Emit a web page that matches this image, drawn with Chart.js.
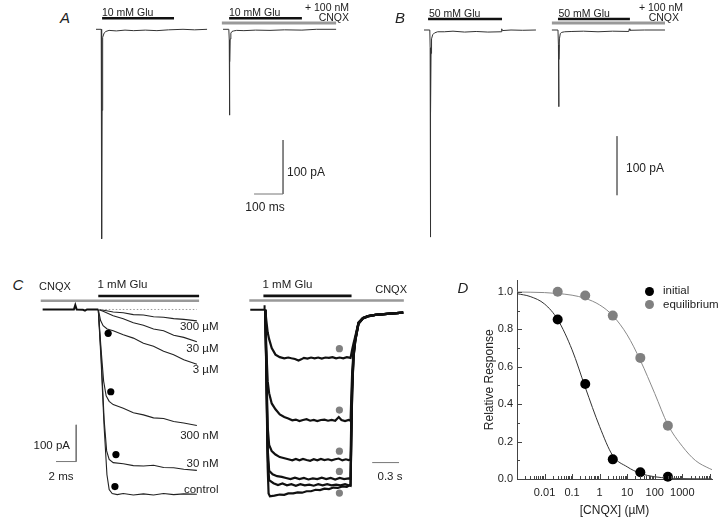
<!DOCTYPE html>
<html>
<head>
<meta charset="utf-8">
<script src="https://cdn.jsdelivr.net/npm/chart.js@4.4.1/dist/chart.umd.min.js"></script>
<style>
  body { margin: 0; background: #fff; }
  #fig { position: relative; width: 720px; height: 520px; overflow: hidden; background: #fff; }
  #fig canvas { position: absolute; }
  .t { position: absolute; white-space: nowrap; font-family: Arial, "Liberation Sans", sans-serif; color: #222; line-height: 1.2; }
  .dot { position: absolute; border-radius: 50%; }
</style>
</head>
<body>
<div id="fig">
  <canvas id="panelA" width="270" height="250" style="left:90px;top:0px"></canvas>
  <canvas id="panelB" width="300" height="250" style="left:400px;top:0px"></canvas>
  <canvas id="panelC1" width="200" height="240" style="left:30px;top:270px"></canvas>
  <canvas id="panelC2" width="190" height="240" style="left:230px;top:270px"></canvas>
  <canvas id="panelD" width="300" height="250" style="left:440px;top:270px"></canvas>
</div>
<script>
// ---- A: 10 mM Glu, ms / pA ----
var aGlu = [[21, 269], [459, 710]];
var aCnqx = [434, 828];
var aControl = [[0,0],[18,0],[19,-30],[19.8,-388],[20.8,-150],[22,-40],[24,-15],[28,-7],[34,-4],[45,-2],[70,-3],[100,-1.5],[130,-2.5],[170,-1.5],[210,-2.5],[250,-1],[300,0],[340,-1],[383,0]];
var aWithCnqx = [[438,0],[458,0],[459.5,-20],[460.3,-159],[461.3,-60],[462.5,-18],[465,-7],[469,-4],[475,-3],[485,-2],[510,-2.5],[550,-1.5],[600,-2],[650,-1],[710,-1.5],[760,0],[828,0]];

// ---- B: 50 mM Glu ----
var bGlu = [[14, 269], [462, 710]];
var bCnqx = [441, 831];
var bControl = [[0,0],[20,0],[21.2,-30],[22,-351],[23,-140],[24.2,-40],[26,-15],[30,-8],[36,-5],[47,-3],[70,-3],[100,-2],[140,-3.5],[180,-2.5],[220,-3.5],[266,-3],[268,2],[270,-1],[300,0],[340,-0.5],[386,0]];
var bWithCnqx = [[441,0],[462,0],[463.5,-25],[464.5,-130],[465.5,-50],[467,-15],[470,-6],[475,-4],[485,-3],[510,-2.5],[550,-2],[600,-3],[650,-2],[706,-2.5],[708,2],[710,-0.5],[760,0],[831,0]];

// ---- C left: fast application, ms / pA ----
var cGlu = [5.52, 15.52];
var cCnqx = [-0.19, 15.52];
var cBase = [[0,0],[3.1,0],[3.24,12],[3.38,0],[4.0,-1],[4.2,-3],[4.4,0],[5.52,0]];
var c300uM = [[5.52,0],[6.2,-3],[7,-7],[8,-9],[9,-14],[10,-15],[11,-20],[12,-21],[13,-25],[14,-27],[15.3,-31]];
var c30uM = [[5.52,0],[6,-5],[7,-17],[8,-25],[9,-36],[10,-43],[11,-53],[12,-58],[13,-70],[14,-76],[15.3,-88]];
var c3uM = [[5.52,0],[5.75,-30],[6.0,-44],[6.4,-53],[7,-58],[8,-69],[9,-78],[10,-92],[11,-100],[12,-114],[13,-123],[14,-137],[15.3,-149]];
var c300nM = [[5.52,0],[5.8,-110],[6.05,-195],[6.3,-235],[6.6,-250],[7,-259],[8,-269],[9,-281],[10,-287],[11,-295],[12,-297],[13,-305],[14,-309],[15.3,-316]];
var c30nM = [[5.52,0],[5.8,-125],[6.1,-300],[6.35,-385],[6.6,-408],[7,-417],[8,-420],[9,-425],[10,-426],[11,-424],[12,-430],[13,-431],[14,-435],[15.3,-438]];
var cControl = [[5.52,0],[5.8,-140],[6.1,-320],[6.38,-450],[6.6,-490],[6.9,-501],[7.4,-504],[8,-501],[9,-505],[10,-502],[11,-505],[12,-501],[13,-504],[14,-502],[15.3,-503]];
var cPeaks = [[6.5,-65],[6.76,-224],[7.27,-395],[7.17,-482]];

// ---- C right: long application, s / pA ----
var rGlu = [0.147, 1.133];
var rCnqx = [-0.011, 1.718];
var rBase = [[0,0],[0.155,0],[0.158,12],[0.162,0],[0.168,0]];
var r300uM = [[0.168,0],[0.18,-30],[0.195,-62],[0.211,-80],[0.24,-104],[0.282,-122],[0.33,-129],[0.38,-132],[0.425,-130],[0.46,-132],[0.5,-134],[0.54,-138],[0.57,-135],[0.6,-131],[0.64,-133],[0.68,-130],[0.72,-132],[0.76,-130],[0.8,-133],[0.84,-130],[0.88,-131],[0.92,-129],[0.96,-132],[1.0,-130],[1.04,-132],[1.08,-129],[1.122,-131],[1.14,-108],[1.155,-92],[1.175,-72],[1.211,-35],[1.26,-22],[1.318,-17],[1.4,-14],[1.497,-12],[1.6,-10],[1.711,-8]];
var r30uM = [[0.168,0],[0.18,-110],[0.195,-195],[0.211,-227],[0.24,-255],[0.282,-271],[0.33,-285],[0.38,-292],[0.425,-296],[0.47,-301],[0.51,-299],[0.55,-303],[0.59,-300],[0.63,-298],[0.67,-302],[0.71,-300],[0.75,-303],[0.79,-300],[0.83,-299],[0.87,-302],[0.91,-300],[0.95,-302],[0.99,-292],[1.02,-300],[1.06,-303],[1.1,-300],[1.122,-302],[1.13,-240],[1.14,-170],[1.155,-115],[1.175,-78],[1.211,-35],[1.26,-22],[1.318,-17],[1.4,-14],[1.497,-12],[1.6,-10],[1.711,-8]];
var r3uM = [[0.168,0],[0.18,-150],[0.195,-320],[0.211,-368],[0.24,-385],[0.282,-394],[0.33,-401],[0.425,-407],[0.47,-410],[0.51,-406],[0.55,-410],[0.59,-406],[0.63,-409],[0.67,-411],[0.71,-407],[0.75,-410],[0.79,-406],[0.83,-409],[0.87,-407],[0.91,-410],[0.95,-407],[0.99,-405],[1.03,-410],[1.07,-407],[1.1,-409],[1.122,-408],[1.13,-300],[1.14,-200],[1.155,-120],[1.175,-80],[1.211,-36],[1.26,-23],[1.318,-17],[1.4,-14],[1.497,-12],[1.6,-10],[1.711,-8]];
var r300nM = [[0.168,0],[0.18,-160],[0.195,-380],[0.211,-438],[0.25,-448],[0.3,-453],[0.353,-455],[0.4,-458],[0.45,-461],[0.5,-457],[0.55,-461],[0.6,-458],[0.65,-462],[0.7,-459],[0.75,-461],[0.8,-457],[0.85,-461],[0.9,-458],[0.95,-462],[1.0,-458],[1.05,-461],[1.1,-459],[1.122,-460],[1.13,-340],[1.14,-215],[1.155,-125],[1.175,-82],[1.211,-37],[1.26,-23],[1.318,-17],[1.4,-14],[1.497,-12],[1.6,-10],[1.711,-8]];
var r30nM = [[0.168,0],[0.18,-170],[0.195,-400],[0.211,-464],[0.26,-472],[0.31,-477],[0.36,-473],[0.41,-478],[0.46,-475],[0.51,-479],[0.56,-475],[0.61,-478],[0.66,-476],[0.71,-479],[0.76,-475],[0.81,-478],[0.86,-475],[0.91,-478],[0.96,-476],[1.01,-478],[1.06,-475],[1.1,-478],[1.122,-477],[1.13,-350],[1.14,-220],[1.155,-128],[1.175,-84],[1.211,-38],[1.26,-24],[1.318,-18],[1.4,-14],[1.497,-12],[1.6,-10],[1.711,-8]];
var rControl = [[0.168,0],[0.18,-180],[0.195,-430],[0.205,-500],[0.22,-508],[0.27,-506],[0.33,-503],[0.38,-504],[0.425,-500],[0.48,-500],[0.53,-497],[0.58,-498],[0.63,-494],[0.68,-494],[0.73,-490],[0.78,-491],[0.83,-487],[0.88,-488],[0.93,-484],[0.98,-485],[1.03,-481],[1.08,-482],[1.11,-478],[1.122,-479],[1.13,-355],[1.14,-225],[1.155,-130],[1.175,-85],[1.211,-38],[1.26,-24],[1.318,-18],[1.4,-14],[1.497,-12],[1.6,-10],[1.711,-8]];
var rEquil = [[0.997,-106],[0.997,-273],[0.997,-385],[0.997,-440],[0.997,-499]];

// ---- D: concentration-response ----
var dConc = [0.03, 0.3, 3, 30, 300];
var dInitial = [0.852, 0.508, 0.105, 0.036, 0.012];
var dEquilibrium = [1.0, 0.98, 0.873, 0.647, 0.285];
var dFitConc = [0.001, 0.003, 0.01, 0.03, 0.1, 0.3, 1, 3, 10, 30, 100, 300, 1000, 3000, 10000, 12000];
var dFitInitial = [0.99, 0.975, 0.935, 0.852, 0.69, 0.49, 0.28, 0.125, 0.065, 0.03, 0.012, 0.005, 0.002, 0.001, 0.0005, 0.0004];
var dFitEquilibrium = [0.999, 0.998, 0.996, 0.991, 0.982, 0.965, 0.93, 0.873, 0.77, 0.634, 0.457, 0.29, 0.175, 0.099, 0.055, 0.05];
var dTickLabels = ['0.01', '0.1', '1', '10', '100', '1000'];

var FONT = 'Arial, "Liberation Sans", sans-serif';

function pts(list) {
    return list.map(function (p) { return {x: p[0], y: p[1]}; });
}

function seg(x0, x1, y0, y1) {
    return [{x: x0, y: y0}, {x: x1, y: y1}];
}

function ln(data, color, width, extra) {
    var ds = {data: data, borderColor: color, borderWidth: width, pointRadius: 0, fill: false, tension: 0};
    for (var k in extra) ds[k] = extra[k];
    return ds;
}

function tracePanel(id, xr, yr, datasets) {
    var ctx = document.getElementById(id).getContext('2d');
    new Chart(ctx, {
        type: 'line',
        data: {datasets: datasets},
        options: {
            responsive: false,
            animation: false,
            events: [],
            layout: {padding: 0},
            plugins: {legend: {display: false}, tooltip: {enabled: false}},
            scales: {
                x: {type: 'linear', display: false, min: xr[0], max: xr[1]},
                y: {type: 'linear', display: false, min: yr[0], max: yr[1]}
            }
        }
    });
}

// A
tracePanel('panelA', [-20.69, 910.34], [-408.7, 54.26], [
    ln(pts(aControl), '#333', 1),
    ln(pts(aWithCnqx), '#333', 1),
    ln(seg(aGlu[0][0], aGlu[0][1], 20.4, 20.4), '#111', 2.6),
    ln(seg(aGlu[1][0], aGlu[1][1], 20.4, 20.4), '#111', 2.6),
    ln(seg(aCnqx[0], aCnqx[1], 11.7, 11.7), '#999', 2.8),
    ln(seg(645, 645, -205, -305), '#777', 1),
    ln(seg(545, 645, -305, -305), '#777', 1)
]);

// B
tracePanel('panelB', [-82.76, 951.7], [-372.9, 50.85], [
    ln(pts(bControl), '#333', 1),
    ln(pts(bWithCnqx), '#333', 1),
    ln(seg(bGlu[0][0], bGlu[0][1], 18.6, 18.6), '#111', 2.6),
    ln(seg(bGlu[1][0], bGlu[1][1], 18.6, 18.6), '#111', 2.6),
    ln(seg(bCnqx[0], bCnqx[1], 11.9, 11.9), '#999', 2.8),
    ln(seg(665.5, 665.5, -180, -280), '#777', 1)
]);

// C left
var cSets = [
    ln(pts(cBase), '#111', 2),
    ln(seg(cGlu[0], 15.3, 0, 0), '#999', 1, {borderDash: [1.5, 2]}),
    ln(seg(cGlu[0], cGlu[1], 36.8, 36.8), '#111', 2.6),
    ln(seg(cCnqx[0], cCnqx[1], 23.7, 23.7), '#999', 2.6),
    ln(seg(3.33, 3.33, -314, -414), '#777', 1),
    ln(seg(1.33, 3.33, -414, -414), '#777', 1),
    {data: pts(cPeaks), showLine: false, pointRadius: 3.6, pointBorderWidth: 0, pointBackgroundColor: '#000', clip: false}
];
[c300uM, c30uM, c3uM, c300nM, c30nM, cControl].forEach(function (tr) {
    cSets.push(ln(pts(tr), '#222', 1.1));
});
tracePanel('panelC1', [-0.857, 18.19], [-535, 96.58], cSets);

// C right
var rSets = [
    ln(pts(rBase), '#111', 2),
    ln(seg(rGlu[0], rGlu[1], 37.7, 37.7), '#111', 2.6),
    ln(seg(rCnqx[0], rCnqx[1], 25.4, 25.4), '#999', 2.6),
    ln(seg(1.364, 1.664, -416, -416), '#777', 1),
    {data: pts(rEquil), showLine: false, pointRadius: 3.6, pointBorderWidth: 0, pointBackgroundColor: '#808080', clip: false}
];
[r300uM, r30uM, r3uM, r300nM, r30nM, rControl].forEach(function (tr) {
    rSets.push(ln(pts(tr), '#111', 2.2));
});
tracePanel('panelC2', [-0.182, 1.854], [-534.2, 97.37], rSets);

// D
function xy(xs, ys) {
    return xs.map(function (x, i) { return {x: x, y: ys[i]}; });
}

var tickMarks = {
    id: 'tickMarks',
    afterDraw: function (chart) {
        var ctx = chart.ctx, sx = chart.scales.x, sy = chart.scales.y;
        ctx.save();
        ctx.strokeStyle = '#444';
        ctx.lineWidth = 1;
        ctx.beginPath();
        sx.ticks.forEach(function (t) {
            var e = Math.floor(Math.log10(t.value) + 1e-9);
            var m = t.value / Math.pow(10, e);
            if (Math.abs(m - Math.round(m)) > 1e-6) return;
            var px = Math.round(sx.getPixelForValue(t.value)) + 0.5;
            var len = Math.round(m) === 1 || Math.round(m) === 10 ? 5 : 3;
            ctx.moveTo(px, sx.top);
            ctx.lineTo(px, sx.top - len);
        });
        sy.ticks.forEach(function (t) {
            var k = Math.round(t.value * 10);
            if (Math.abs(t.value * 10 - k) > 1e-6) return;
            var py = Math.round(sy.getPixelForValue(t.value)) + 0.5;
            ctx.moveTo(sy.right, py);
            ctx.lineTo(sy.right + (k % 2 === 0 ? 5 : 3), py);
        });
        ctx.stroke();
        ctx.restore();
    }
};

var ctxD = document.getElementById('panelD').getContext('2d');
new Chart(ctxD, {
    type: 'line',
    data: {
        datasets: [
            {data: xy(dConc, dInitial), showLine: false, pointRadius: 5, pointBorderWidth: 0, pointBackgroundColor: '#000', clip: false},
            {data: xy(dConc, dEquilibrium), showLine: false, pointRadius: 5, pointBorderWidth: 0, pointBackgroundColor: '#808080', clip: false},
            ln(xy(dFitConc, dFitInitial), '#333', 1, {cubicInterpolationMode: 'monotone'}),
            ln(xy(dFitConc, dFitEquilibrium), '#8a8a8a', 1, {cubicInterpolationMode: 'monotone'})
        ]
    },
    options: {
        responsive: false,
        animation: false,
        events: [],
        layout: {padding: {top: 5, right: 28, left: 0, bottom: 0}},
        plugins: {legend: {display: false}, tooltip: {enabled: false}},
        scales: {
            x: {
                type: 'logarithmic', min: 0.001, max: 12000,
                grid: {display: false, drawTicks: false},
                border: {display: true, color: '#444', width: 1},
                ticks: {
                    autoSkip: false, maxRotation: 0, padding: 7, color: '#222',
                    font: {family: FONT, size: 11},
                    callback: function (v) {
                        var l = Math.log10(v);
                        if (Math.abs(l - Math.round(l)) > 1e-6) return '';
                        var i = Math.round(l) + 2;
                        return i >= 0 && i < dTickLabels.length ? dTickLabels[i] : '';
                    }
                },
                title: {display: true, text: '[CNQX] (µM)', color: '#222', font: {family: FONT, size: 12}, padding: {top: 0, bottom: 2}},
                afterFit: function (s) { s.height = 41; }
            },
            y: {
                type: 'linear', min: 0, max: 1.06,
                grid: {display: false, drawTicks: false},
                border: {display: true, color: '#444', width: 1},
                ticks: {
                    stepSize: 0.1, includeBounds: false, autoSkip: false, padding: 4, color: '#222',
                    font: {family: FONT, size: 11},
                    callback: function (v) {
                        return Math.abs(v * 5 - Math.round(v * 5)) < 1e-6 ? v.toFixed(1) : '';
                    }
                },
                title: {display: true, text: 'Relative Response', color: '#222', font: {family: FONT, size: 12}, padding: {top: 42, bottom: 0}},
                afterFit: function (s) { s.width = 77; }
            }
        }
    },
    plugins: [tickMarks]
});

// text labels (panel letters, stimulus and scale labels)
var fig = document.getElementById('fig');
function txt(s, x, y, align, size, italic) {
    var d = document.createElement('div');
    d.className = 't';
    d.textContent = s;
    d.style.left = x + 'px';
    d.style.top = y + 'px';
    d.style.fontSize = size + 'px';
    if (italic) d.style.fontStyle = 'italic';
    var tx = align === 'c' ? '-50%' : align === 'r' ? '-100%' : '0';
    d.style.transform = 'translate(' + tx + ',-50%)';
    fig.appendChild(d);
}
function dot(x, y, r, color) {
    var d = document.createElement('div');
    d.className = 'dot';
    d.style.left = (x - r) + 'px';
    d.style.top = (y - r) + 'px';
    d.style.width = d.style.height = (2 * r) + 'px';
    d.style.background = color;
    fig.appendChild(d);
}

txt('A', 65, 18, 'c', 15, true);
txt('10 mM Glu', 102, 12, 'l', 10.5);
txt('10 mM Glu', 229, 12, 'l', 10.5);
txt('+ 100 nM', 349, 7, 'r', 10.5);
txt('CNQX', 349, 16.5, 'r', 10.5);
txt('100 pA', 287, 171.5, 'l', 12);
txt('100 ms', 265, 207, 'c', 12);

txt('B', 400, 18, 'c', 15, true);
txt('50 mM Glu', 429, 12.5, 'l', 10.5);
txt('50 mM Glu', 558.5, 12.5, 'l', 10.5);
txt('+ 100 nM', 683, 6.7, 'r', 10.5);
txt('CNQX', 679, 16.7, 'r', 10.5);
txt('100 pA', 626, 168, 'l', 12);

txt('C', 18, 285, 'c', 15, true);
txt('CNQX', 39, 287, 'l', 11);
txt('1 mM Glu', 97.5, 285, 'l', 11.5);
txt('1 mM Glu', 262.5, 285, 'l', 11.5);
txt('CNQX', 407, 289.5, 'r', 11);
txt('300 µM', 218.5, 327, 'r', 11.5);
txt('30 µM', 218.5, 349, 'r', 11.5);
txt('3 µM', 218.5, 369.5, 'r', 11.5);
txt('300 nM', 218.5, 435.5, 'r', 11.5);
txt('30 nM', 218.5, 464, 'r', 11.5);
txt('control', 218.5, 490, 'r', 11.5);
txt('100 pA', 33.5, 446, 'l', 11.5);
txt('2 ms', 61, 477, 'c', 11.5);
txt('0.3 s', 390, 477, 'c', 11.5);

txt('D', 463, 288, 'c', 15, true);
dot(649, 291, 4.5, '#000');
dot(649, 304.5, 4.5, '#808080');
txt('initial', 663, 291, 'l', 11.5);
txt('equilibrium', 663, 304.5, 'l', 11.5);
</script>
</body>
</html>
